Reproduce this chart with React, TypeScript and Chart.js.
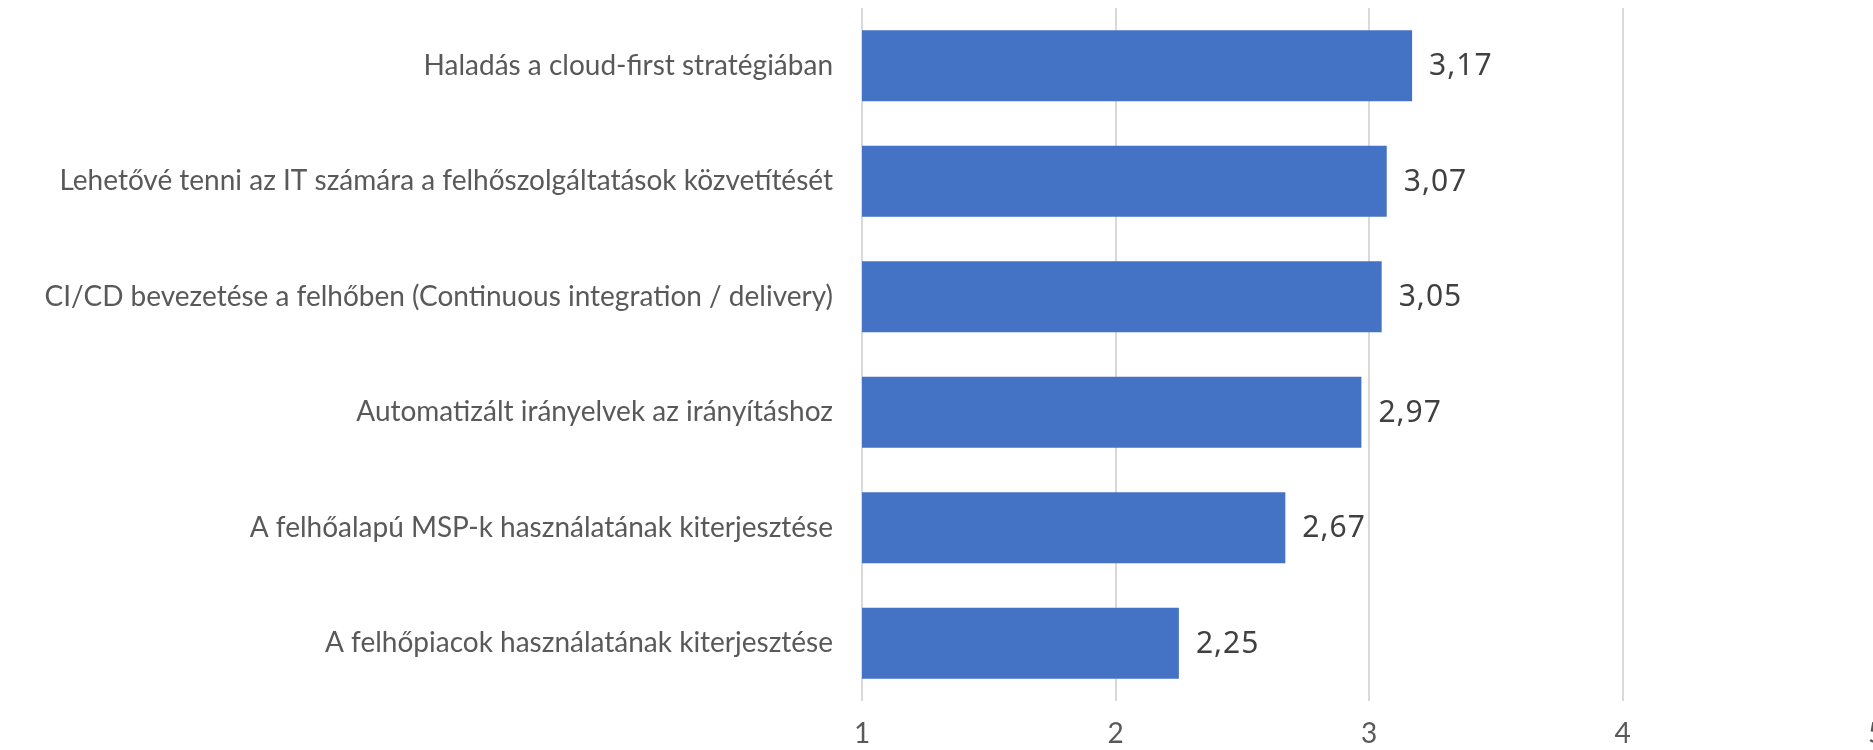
import React, { useEffect, useRef } from "react";
import { Chart, registerables } from "chart.js";

Chart.register(...registerables);

const categories: string[] = [
  "Haladás a cloud-first stratégiában",
  "Lehetővé tenni az IT számára a felhőszolgáltatások közvetítését",
  "CI/CD bevezetése a felhőben (Continuous integration / delivery)",
  "Automatizált irányelvek az irányításhoz",
  "A felhőalapú MSP-k használatának kiterjesztése",
  "A felhőpiacok használatának kiterjesztése",
];
const values: number[] = [3.17, 3.07, 3.05, 2.97, 2.67, 2.25];
const axisMin = 1;
const axisMax = 5;
const axisStep = 1;

const W = 1920;
const H = 770;

const valueLabels = {
  id: "valueLabels",
  afterDatasetsDraw(chart: any) {
    const ctx = chart.ctx;
    const meta = chart.getDatasetMeta(0);
    ctx.save();
    ctx.font = "30px 'Noto Sans'";
    (ctx as any).letterSpacing = "1px";
    ctx.fillStyle = "#404040";
    ctx.textAlign = "left";
    ctx.textBaseline = "middle";
    meta.data.forEach((bar: any, i: number) => {
      const txt = values[i].toFixed(2).replace(".", ",");
      ctx.fillText(txt, bar.x + 17, bar.y + 1);
    });
    ctx.restore();
  },
};

export default function App() {
  const ref = useRef<HTMLCanvasElement | null>(null);
  useEffect(() => {
    document.body.style.margin = "0";
    const chart = new Chart(ref.current!, {
      type: "bar",
      data: {
        labels: categories,
        datasets: [
          {
            data: values,
            backgroundColor: "#4472C4",
            borderWidth: 0,
            barPercentage: 0.615,
            categoryPercentage: 1,
          },
        ],
      },
      options: {
        indexAxis: "y",
        responsive: false,
        animation: false,
        devicePixelRatio: 1,
        layout: { padding: { left: 0, top: 8, right: W - 1876, bottom: 0 } },
        plugins: { legend: { display: false }, tooltip: { enabled: false } },
        scales: {
          x: {
            min: axisMin,
            max: axisMax,
            ticks: {
              stepSize: axisStep,
              color: "#595959",
              font: { family: "Lato", size: 28 },
              padding: 16,
              maxRotation: 0,
            },
            grid: { color: "#d9d9d9", lineWidth: 2, drawTicks: false },
            border: { display: false },
            afterFit: (s: any) => {
              s.height = H - 701;
              s.paddingLeft = 0;
              s.paddingRight = 0;
            },
          },
          y: {
            ticks: {
              color: "#595959",
              font: { family: "Lato", size: 28 },
              padding: 29,
            },
            grid: { display: false, drawTicks: false },
            border: { display: false },
            afterFit: (s: any) => {
              s.width = 862;
              s.paddingTop = 0;
              s.paddingBottom = 0;
            },
          },
        },
      },
      plugins: [valueLabels],
    });
    return () => chart.destroy();
  }, []);
  return (
    <div style={{ position: "fixed", left: 0, top: 0, width: W, height: H }}>
      <canvas ref={ref} width={W} height={H} style={{ width: W, height: H, display: "block" }} />
    </div>
  );
}
